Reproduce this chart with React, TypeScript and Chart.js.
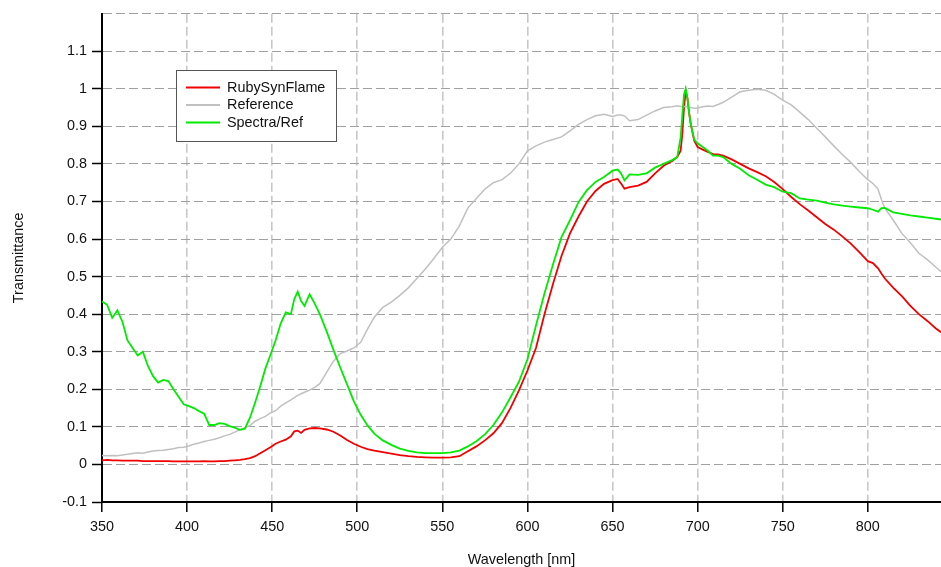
import React, { useEffect, useRef } from 'react';
import { Chart, registerables } from 'chart.js';

Chart.register(...registerables);

// Wavelength grid [nm]
const wavelengths = [
  350, 353, 356, 359, 362, 365, 368, 371, 374, 377,
  380, 383, 386, 389, 392, 395, 398, 401, 404, 407,
  410, 413, 416, 419, 422, 425, 428, 431, 434, 437,
  440, 443, 446, 449, 452, 455, 458, 461, 463, 465,
  467, 469, 472, 475, 478, 482, 486, 490, 494, 498,
  502, 506, 510, 515, 520, 525, 530, 535, 540, 545,
  550, 555, 560, 565, 570, 575, 580, 585, 590, 595,
  600, 605, 610, 615, 620, 625, 630, 635, 640, 645,
  650, 653, 655, 657, 660, 665, 670, 675, 680, 685,
  688, 690, 691, 692, 693, 694, 695, 696, 698, 700,
  703, 706, 709, 712, 715, 720, 725, 730, 735, 740,
  745, 750, 755, 760, 765, 770, 775, 780, 785, 790,
  795, 800, 803, 806, 808, 810, 815, 820, 825, 830,
  835, 840, 843,
];

const rubySynFlame = [
  0.011, 0.012, 0.011, 0.011, 0.010, 0.010, 0.010, 0.010, 0.009, 0.009,
  0.009, 0.009, 0.009, 0.009, 0.008, 0.008, 0.008, 0.008, 0.008, 0.008,
  0.009, 0.008, 0.008, 0.009, 0.009, 0.010, 0.011, 0.012, 0.014, 0.017,
  0.022, 0.030, 0.038, 0.046, 0.055, 0.061, 0.066, 0.075, 0.088, 0.090,
  0.084, 0.092, 0.096, 0.097, 0.096, 0.093, 0.087, 0.077, 0.065, 0.055,
  0.047, 0.041, 0.037, 0.033, 0.029, 0.025, 0.022, 0.020, 0.019, 0.018,
  0.018, 0.019, 0.022, 0.035, 0.048, 0.064, 0.083, 0.110, 0.150, 0.197,
  0.250, 0.310, 0.400, 0.480, 0.555, 0.615, 0.660, 0.700, 0.728, 0.747,
  0.757, 0.760, 0.748, 0.734, 0.738, 0.742, 0.752, 0.775, 0.795, 0.808,
  0.818, 0.835, 0.880, 0.950, 0.995, 0.975, 0.935, 0.905, 0.862, 0.845,
  0.838, 0.832, 0.826, 0.825, 0.822, 0.812, 0.800, 0.788, 0.778, 0.767,
  0.752, 0.733, 0.712, 0.693, 0.676, 0.658, 0.640, 0.625, 0.607, 0.588,
  0.565, 0.541, 0.536, 0.522, 0.508, 0.495, 0.470, 0.448, 0.422, 0.400,
  0.382, 0.362, 0.352,
];

const reference = [
  0.024, 0.023, 0.024, 0.023, 0.025, 0.027, 0.029, 0.031, 0.030, 0.033,
  0.036, 0.037, 0.038, 0.040, 0.042, 0.045, 0.046, 0.049, 0.054, 0.057,
  0.061, 0.064, 0.067, 0.071, 0.076, 0.080, 0.086, 0.092, 0.098, 0.104,
  0.115, 0.122, 0.128, 0.137, 0.143, 0.155, 0.164, 0.172, 0.178, 0.184,
  0.188, 0.192, 0.198, 0.205, 0.215, 0.245, 0.275, 0.295, 0.302, 0.310,
  0.325, 0.360, 0.392, 0.418, 0.432, 0.450, 0.470, 0.495, 0.520, 0.548,
  0.578, 0.600, 0.635, 0.683, 0.708, 0.733, 0.750, 0.758, 0.775, 0.800,
  0.835, 0.848, 0.858, 0.865, 0.872, 0.888, 0.905, 0.918, 0.928, 0.932,
  0.926, 0.930, 0.930, 0.928, 0.915, 0.918, 0.930, 0.941, 0.950, 0.952,
  0.955, 0.953, 0.953, 0.953, 0.952, 0.952, 0.950, 0.950, 0.948, 0.949,
  0.952, 0.954, 0.953, 0.958, 0.964, 0.978, 0.992, 0.996, 0.999, 0.996,
  0.985, 0.970, 0.957, 0.938, 0.918, 0.895, 0.872, 0.848, 0.825, 0.804,
  0.780, 0.758, 0.748, 0.733, 0.705, 0.682, 0.650, 0.615, 0.590, 0.562,
  0.545, 0.525, 0.513,
];

const spectraRef = [
  0.434, 0.425, 0.390, 0.410, 0.380, 0.330, 0.310, 0.290, 0.300, 0.262,
  0.235, 0.218, 0.225, 0.222, 0.200, 0.180, 0.160, 0.155, 0.150, 0.142,
  0.135, 0.105, 0.105, 0.110, 0.108, 0.102, 0.098, 0.092, 0.095, 0.125,
  0.165, 0.208, 0.255, 0.292, 0.330, 0.375, 0.405, 0.400, 0.440, 0.460,
  0.435, 0.422, 0.453, 0.428, 0.400, 0.354, 0.305, 0.258, 0.213, 0.168,
  0.132, 0.104, 0.082, 0.064, 0.052, 0.042, 0.036, 0.032, 0.030, 0.030,
  0.030, 0.032, 0.037, 0.048, 0.062, 0.080, 0.105, 0.138, 0.178, 0.220,
  0.280, 0.370, 0.455, 0.532, 0.605, 0.650, 0.698, 0.730, 0.752, 0.765,
  0.782, 0.785, 0.775, 0.756, 0.772, 0.771, 0.775, 0.790, 0.800, 0.810,
  0.818, 0.870, 0.930, 0.985, 1.000, 0.975, 0.935, 0.905, 0.865, 0.855,
  0.845, 0.835, 0.822, 0.822, 0.818, 0.800, 0.787, 0.770, 0.758, 0.745,
  0.738, 0.726, 0.722, 0.708, 0.705, 0.702, 0.697, 0.692, 0.689, 0.686,
  0.684, 0.682, 0.678, 0.673, 0.682, 0.683, 0.671, 0.667, 0.663, 0.660,
  0.657, 0.654, 0.652,
];

const xTicks = [350, 400, 450, 500, 550, 600, 650, 700, 750, 800];
const yTicks = [-0.1, 0, 0.1, 0.2, 0.3, 0.4, 0.5, 0.6, 0.7, 0.8, 0.9, 1, 1.1, 1.2];
const seriesLabels = ['RubySynFlame', 'Reference', 'Spectra/Ref'];
const xTitle = 'Wavelength [nm]';
const yTitle = 'Transmittance';

const FONT = '"Liberation Sans", Arial, sans-serif';
const FONT_SIZE = 14.4;

const boxLegend = {
  id: 'boxLegend',
  afterDraw(chart: any) {
    const ctx = chart.ctx;
    ctx.save();
    const x0 = 176.5, y0 = 70.5, w = 160, h = 71;
    ctx.fillStyle = '#ffffff';
    ctx.fillRect(x0, y0, w, h);
    ctx.strokeStyle = '#555555';
    ctx.lineWidth = 1;
    ctx.strokeRect(x0, y0, w, h);
    const rowsY = [87.5, 105, 122.5];
    chart.data.datasets.forEach((ds: any, i: number) => {
      const y = rowsY[i];
      ctx.strokeStyle = ds.borderColor;
      ctx.lineWidth = 2;
      ctx.beginPath();
      ctx.moveTo(186, y);
      ctx.lineTo(220, y);
      ctx.stroke();
      ctx.fillStyle = '#111111';
      ctx.font = `${FONT_SIZE}px ${FONT}`;
      ctx.textBaseline = 'middle';
      ctx.textAlign = 'left';
      ctx.fillText(ds.label, 227, y + 0.5);
    });
    ctx.restore();
  },
};

export default function App() {
  const canvasRef = useRef<HTMLCanvasElement | null>(null);

  useEffect(() => {
    document.body.style.margin = '0';
    const canvas = canvasRef.current;
    if (!canvas) return;
    const toPts = (arr: number[]) => wavelengths.map((x, i) => ({ x, y: arr[i] }));
    const chart = new Chart(canvas, {
      type: 'line',
      data: {
        datasets: [
          {
            label: seriesLabels[0],
            data: toPts(rubySynFlame),
            borderColor: 'rgb(240,0,0)',
            borderWidth: 1.8,
            pointRadius: 0,
            tension: 0,
            order: 3,
          },
          {
            label: seriesLabels[1],
            data: toPts(reference),
            borderColor: 'rgb(192,192,192)',
            borderWidth: 1.5,
            pointRadius: 0,
            tension: 0,
            order: 2,
          },
          {
            label: seriesLabels[2],
            data: toPts(spectraRef),
            borderColor: 'rgb(0,235,0)',
            borderWidth: 1.8,
            pointRadius: 0,
            tension: 0,
            order: 1,
          },
        ],
      },
      options: {
        responsive: false,
        animation: false,
        devicePixelRatio: 1,
        layout: { padding: { top: 10, left: 0, right: 0, bottom: 0 } },
        plugins: {
          legend: { display: false },
          tooltip: { enabled: false },
        },
        scales: {
          x: {
            type: 'linear',
            position: 'bottom',
            min: 350,
            max: 843,
            afterBuildTicks: (s: any) => {
              s.ticks = xTicks.map((v) => ({ value: v }));
            },
            afterFit: (s: any) => {
              s.height = 65;
            },
            grid: {
              color: (c: any) => (c.tick && c.tick.value === 350 ? 'rgba(0,0,0,0)' : 'rgb(200,200,200)'),
              lineWidth: 1.6,
              tickColor: '#000',
              tickLength: 10,
              tickWidth: 1.5,
            },
            border: { display: true, color: '#000', width: 2, dash: [9, 4] },
            ticks: {
              font: { family: FONT, size: FONT_SIZE },
              color: '#111',
              padding: 6,
              maxRotation: 0,
              autoSkip: false,
              callback: (v: any) => String(v),
            },
            title: {
              display: true,
              text: xTitle,
              font: { family: FONT, size: FONT_SIZE, lineHeight: 1 },
              color: '#111',
              padding: { top: 0, bottom: 0 },
            },
          },
          y: {
            type: 'linear',
            min: -0.1,
            max: 1.2,
            afterBuildTicks: (s: any) => {
              s.ticks = yTicks.map((v) => ({ value: v }));
            },
            afterFit: (s: any) => {
              s.width = 102;
            },
            grid: {
              color: (c: any) =>
                c.tick && (c.tick.value < -0.05) ? 'rgba(0,0,0,0)' : 'rgb(160,160,160)',
              lineWidth: 1,
              tickColor: (c: any) => (c.tick && c.tick.value > 1.15 ? 'rgba(0,0,0,0)' : '#000'),
              tickLength: 10,
              tickWidth: 1.5,
            },
            border: { display: true, color: '#000', width: 2, dash: [9, 4] },
            ticks: {
              font: { family: FONT, size: FONT_SIZE },
              color: '#111',
              padding: 5,
              autoSkip: false,
              callback: (v: any) => (v > 1.15 ? '' : String(Math.round(v * 10) / 10)),
            },
            title: {
              display: true,
              text: yTitle,
              font: { family: FONT, size: FONT_SIZE },
              color: '#111',
              padding: { top: 10, bottom: 0 },
            },
          },
        },
      },
      plugins: [boxLegend],
    } as any);
    return () => chart.destroy();
  }, []);

  return (
    <canvas
      ref={canvasRef}
      width={941}
      height={567}
      style={{ display: 'block', width: 941, height: 567 }}
    />
  );
}
